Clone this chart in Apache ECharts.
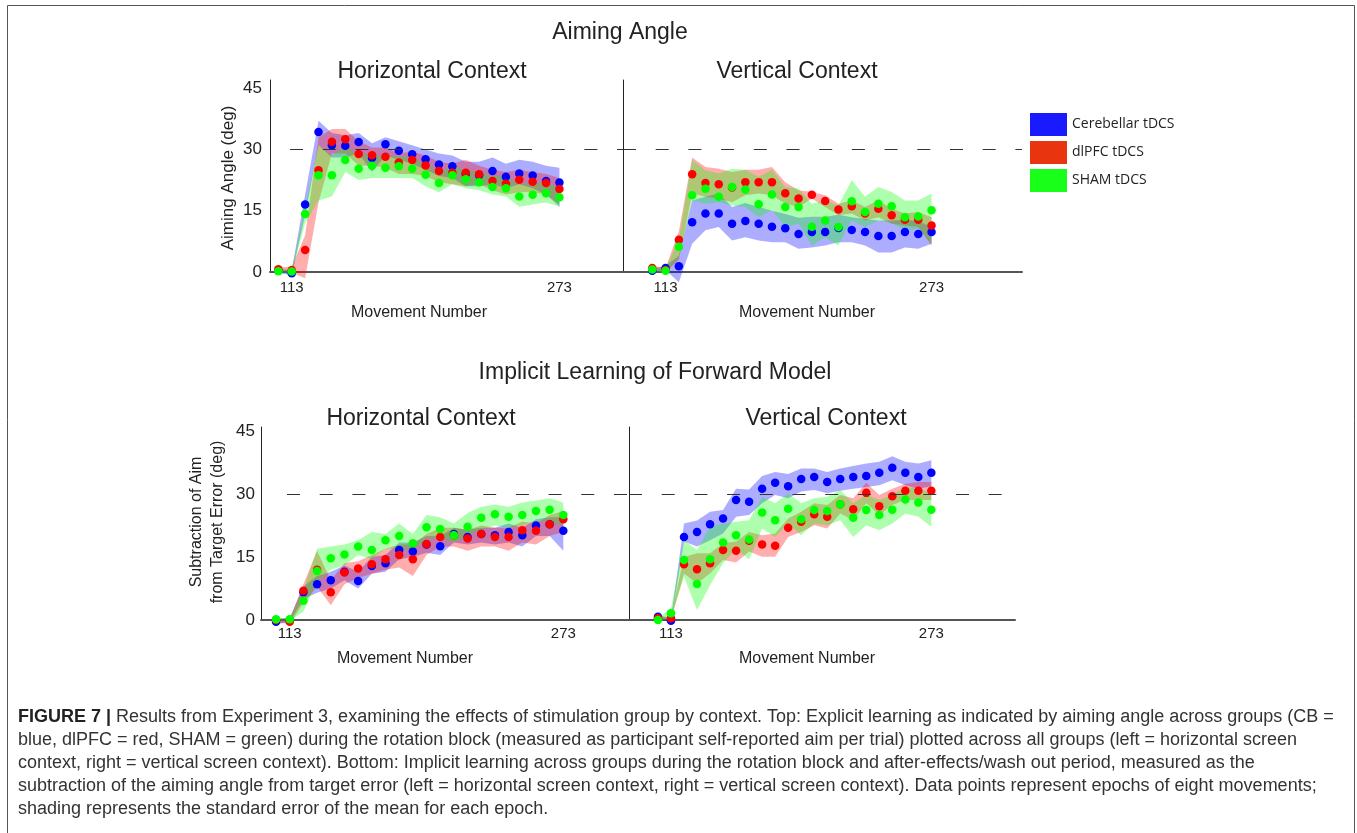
<!DOCTYPE html>
<html><head><meta charset="utf-8">
<script src="https://cdn.jsdelivr.net/npm/echarts@6/dist/echarts.min.js"></script>
<style>html,body{margin:0;padding:0;background:#fff}#c{width:1357px;height:833px}</style>
</head><body><div id="c"></div>
<script>
// Movement number of each epoch (epochs of eight movements)
const movement = [105,113,121,129,137,145,153,161,169,177,185,193,201,209,217,225,233,241,249,257,265,273];
const xTickLabels = [113, 273];
const yTickLabels = [0, 15, 30, 45];
const groupNames = ['Cerebellar tDCS', 'dlPFC tDCS', 'SHAM tDCS'];

// Aiming angle, horizontal context
const tlBlue   = [0.3,-0.3,16.5,34.3,31,30.9,31.8,27.9,31.3,29.7,28.8,27.6,26.3,25.9,24,23.7,24.7,23.3,24.1,23.6,22.3,21.9];
const tlBlueHi = [0.8,0.5,19,37,34,33.5,34,31.5,33,32,31,30,29,28.5,27,27,28,26.5,27.5,27,26,25.5];
const tlBlueLo = [-0.2,-0.8,14,31,28,28,29,24.5,28.5,27.5,26.5,25,23.5,23,21,21,21.5,20.5,21.5,20.5,19,16];
const tlRed    = [0.7,0.5,5.4,24.9,31.9,32.5,28.9,28.6,28.2,26.8,27.4,26.1,24.7,24.3,24.3,23.9,22.3,21.6,22.6,22.1,21.8,20.3];
const tlRedHi  = [1.2,1.2,9,33,35,35,32,30.5,30.5,29,29.5,28.5,27,26.5,27.5,26,25,24.5,25,24.5,24,23];
const tlRedLo  = [0.2,-0.2,-1.5,17,29,29,26,26,25.5,24,24,23.5,22,21.5,21,21.5,20,19,19.5,19.5,19,16.5];
const tlGreen  = [0.2,0.1,14.2,23.7,23.7,27.4,25.3,26,25.5,25.9,25.3,23.8,21.8,23.7,22.7,22,20.8,20.5,18.5,18.9,19.3,18.3];
const tlGreenHi= [0.5,0.5,16,31,28.5,31,28.5,29,28,28.5,28,26.5,24.5,26,25,24.5,23.5,23.5,21.5,22,22,20.5];
const tlGreenLo= [-0.3,-0.3,12,17.5,18.5,24.5,22.5,23,23,23,23,21,19.5,21.5,20.5,20,19,18.5,16,16.5,17,16];

// Aiming angle, vertical context
const trBlue   = [0.3,1,1.4,12.2,14.3,14.3,11.8,12.5,11.8,11.1,10.7,9.3,9.8,9.8,10.8,10.3,9.8,8.8,8.8,9.8,9.3,9.8];
const trBlueHi = [0.8,1.5,4,17.5,18.4,19.2,15.9,16.9,15.9,15,14.2,13.3,13.5,13.5,14,13.4,13,12.6,12.6,12.8,12.5,11];
const trBlueLo = [-0.2,0.5,-2.5,6.9,10.2,11,7.7,8.5,7.7,7.3,7.3,5.7,6,6.5,7.3,7.3,6.5,4.8,4.8,6,5.7,6.9];
const trRed    = [1,0.5,7.9,23.9,21.8,21.5,20.7,22,22,22,19.3,18,18.9,17.4,15.3,16.1,14.3,15.5,13.9,12.8,12.8,11.4];
const trRedHi  = [1.5,1,10,28,25.7,25.3,24.5,25,25,25.7,22,20,19.6,18.8,16.7,17.5,16,17.5,15.5,14.3,14.7,13.4];
const trRedLo  = [0.5,0,3,19.2,18.4,18,17.1,18.8,19.2,18.8,16.7,15.9,18,15.9,13.9,14.3,12.6,13.4,11.8,11.4,11,6.5];
const trGreen  = [0.6,0.3,6.2,18.8,20.4,18.4,20.8,20.2,16.6,19,15.9,15.9,11.1,12.6,11,17.3,14.7,16.7,16.1,13.4,13.6,15.1];
const trGreenHi= [1,0.8,8,27.4,24.9,24.1,25.3,25,23.3,25,20.8,20.4,16.7,17.5,16.3,22.5,18.4,20.8,19.6,17.5,17.5,19.2];
const trGreenLo= [0.2,-0.2,3.5,17.5,16.7,17.1,16.3,15.9,13.4,15.1,11,11.8,6.5,8.5,6.5,12.6,11,12.6,12,10.2,10.5,7];

// Implicit learning, horizontal context
const blBlue   = [-0.4,0,6.6,8.5,9.5,11.5,9.3,12.9,13.5,16.7,16.3,18,17.6,20.5,19.8,20.5,20.2,21,20.2,22.5,22.8,21.3];
const blBlueHi = [0.2,0.5,8,10.5,11.5,13,11.5,15,15.5,18.5,18.5,20,20,22,21.5,22,22,23,22,24,24.5,24.5];
const blBlueLo = [-1,-0.5,5,6.5,7.5,9.5,7.5,11,11.5,14.5,15,16,15.5,18.5,18,18.5,18,18.5,17.5,20,20,16.5];
const blRed    = [0,-0.4,7,12,6.6,11.3,12.3,13.3,14.5,15.5,14.5,18.1,19.8,20.2,19.4,20.5,19.8,19.8,21.4,21.3,22.8,24];
const blRedHi  = [0.5,0.3,8.5,16.5,9.5,13.5,14,15.5,17,18,18,20.5,22,22,21.5,22.5,22,22,23.5,23,25,26];
const blRedLo  = [-0.5,-1,4,8,3.5,8.5,10,11,12,12.5,10.5,15.5,17.5,17.5,16.5,17.5,17.5,16.5,18.5,18,20,21];
const blGreen  = [0.2,0.2,4.6,11.7,14.7,15.6,17.5,16.7,19,20,18.3,22.1,21.7,20.2,22.2,24.4,25.2,24.6,25,26,26.3,25];
const blGreenHi= [0.5,0.5,7,17,17.5,18,19,21,20.5,23,20.5,25,24.5,23,25.5,27,27.5,27,28,28.5,29,28];
const blGreenLo= [-0.3,-0.3,2,9,12,13,15.5,14.5,17,17,16.5,19.5,19.5,18.5,20,21.5,22.5,22,22.5,23.5,23.5,22.5];

// Implicit learning, vertical context
const brBlue   = [0.8,-0.2,19.8,21,22.8,24.2,28.6,28.2,31.3,32.7,31.9,33.6,34.1,32.9,33.6,34.1,34.3,35.1,36.3,35.1,34.1,35.1];
const brBlueHi = [1.2,0.3,23,23.7,25.8,26.2,31.3,31.1,34.3,35.3,34.8,36.1,36.1,35.3,36.1,36.7,37.3,37.7,39,37.7,37.3,38.1];
const brBlueLo = [0.3,-0.6,18.7,17.5,19,20.6,24.6,25,27.8,29.8,29,30.6,31,30.2,30.8,31.3,31.7,32.1,33.3,32.1,31.3,31.9];
const brRed    = [0.4,0.4,13.3,12.1,13.5,16.7,16.5,18.9,18,17.7,22,23.4,25.2,24.6,27.6,26.4,30.3,27.1,29.5,30.8,30.8,30.8];
const brRedHi  = [0.8,0.8,15,15.9,15.9,18.3,18.7,21,20.2,20.6,24.2,25.8,27.8,27.4,29.8,29,32.7,29.8,31.3,32.5,32.9,32.9];
const brRedLo  = [0,0,11.1,8.7,11.1,14.3,13.7,16.3,15.1,15.1,19.8,21,22.6,21.8,25.4,23.8,27.8,25,27.4,28.6,28.6,28.6];
const brGreen  = [0,1.6,14.3,8.6,14.5,18.5,20.2,19.2,25.6,23.8,26.5,24,26.2,26,27.6,24.4,26.2,25,26.3,28.7,28,26.3];
const brGreenHi= [0.4,2.8,19,16.7,22.2,23,23.4,23.8,29.4,27.8,30.2,27.8,29,29.4,31,27.8,29.8,28.6,29.8,31.7,31.3,30.2];
const brGreenLo= [-0.4,0.4,10.3,2.4,8.3,13.5,17,14.4,21.8,19.8,23,20.2,23,22.6,23.8,19.8,22.6,21.4,23,25.4,24.6,22.2];

const FONT = "'Liberation Sans', Arial, Helvetica, sans-serif";
const DOT = ['#0000ff', '#ff0000', '#00ff00'];
const BAND = ['rgba(0,0,255,0.32)', 'rgba(255,0,0,0.32)', 'rgba(0,255,0,0.32)'];
const LEGEND = ['#1a1aff', '#e8340f', '#1aff1a'];

const panels = [
  {grid:{left:270, top:80, width:353, height:192}, xr:[100,311], ymax:47, yLabels:true, xMargin:8, yMargin:8, dashFrom:112,
   groups:[[tlBlue,tlBlueLo,tlBlueHi],[tlRed,tlRedLo,tlRedHi],[tlGreen,tlGreenLo,tlGreenHi]]},
  {grid:{left:623, top:80, width:399, height:192}, xr:[87.4,327.4], ymax:47, yLabels:false, xMargin:8, yMargin:8, dashFrom:87.4,
   groups:[[trBlue,trBlueLo,trBlueHi],[trRed,trRedLo,trRedHi],[trGreen,trGreenLo,trGreenHi]]},
  {grid:{left:261, top:427, width:368, height:193}, xr:[96.2,311.4], ymax:46, yLabels:true, xMargin:6, yMargin:6, dashFrom:111.4,
   groups:[[blBlue,blBlueLo,blBlueHi],[blRed,blRedLo,blRedHi],[blGreen,blGreenLo,blGreenHi]]},
  {grid:{left:629, top:427, width:386, height:193}, xr:[87.2,324.4], ymax:46, yLabels:false, xMargin:6, yMargin:6, dashFrom:87.2,
   groups:[[brBlue,brBlueLo,brBlueHi],[brRed,brRedLo,brRedHi],[brGreen,brGreenLo,brGreenHi]]}
];

const grids = [], xAxes = [], yAxes = [], series = [];
panels.forEach((p, i) => {
  grids.push(Object.assign({containLabel:false}, p.grid));
  xAxes.push({type:'value', gridIndex:i, min:p.xr[0], max:p.xr[1],
    axisLine:{show:true, onZero:false, lineStyle:{color:'#555', width:2}},
    axisTick:{show:false}, splitLine:{show:false},
    axisLabel:{customValues:xTickLabels, fontSize:15, color:'#222', fontFamily:FONT, margin:p.xMargin}});
  yAxes.push({type:'value', gridIndex:i, min:0, max:p.ymax,
    axisLine:{show:true, lineStyle:{color:'#222', width:1}},
    axisTick:{show:false}, splitLine:{show:false},
    axisLabel: p.yLabels ? {customValues:yTickLabels, fontSize:17, color:'#222', fontFamily:FONT, margin:p.yMargin} : {show:false}});
  p.groups.forEach((g, gi) => {
    const mean = g[0], lo = g[1], hi = g[2];
    series.push({type:'custom', name:groupNames[gi], xAxisIndex:i, yAxisIndex:i, silent:true, clip:false,
      data:[[movement[0], mean[0]]],
      renderItem:(params, api) => {
        const pts = [];
        for (let k = 0; k < movement.length; k++) pts.push(api.coord([movement[k], hi[k]]));
        for (let k = movement.length - 1; k >= 0; k--) pts.push(api.coord([movement[k], lo[k]]));
        return {type:'polygon', shape:{points:pts}, style:{fill:BAND[gi], stroke:null}};
      }});
    const sc = {type:'scatter', name:groupNames[gi], xAxisIndex:i, yAxisIndex:i, silent:true, clip:false,
      symbol:'circle', symbolSize:8.5, itemStyle:{color:DOT[gi], opacity:1},
      data: movement.map((m, k) => [m, mean[k]])};
    if (gi === 2) {
      sc.markLine = {silent:true, symbol:'none', label:{show:false}, animation:false,
        lineStyle:{color:'#333', width:1, type:[13, 19.7]},
        data:[[{coord:[p.dashFrom, 30]}, {coord:[p.xr[1], 30]}]]};
    }
    series.push(sc);
  });
});

function txt(x, y, text, size, opts) {
  opts = opts || {};
  return {type:'text', x:x, y:y, rotation:opts.rot || 0, silent:true,
    style:{x:0, y:0, text:text, fill:opts.color || '#222', fontSize:size, fontFamily:opts.font || FONT,
      fontWeight:opts.weight || 'normal', textAlign:opts.align || 'center', textVerticalAlign:'middle',
      lineHeight:opts.lh, rich:opts.rich}};
}

const CAP = 18;
const capRich = {b:{fontWeight:'bold', fontSize:CAP, fontFamily:FONT, fill:'#222', color:'#222'}};
const captionLines = [
  '{b|FIGURE 7 |} Results from Experiment 3, examining the effects of stimulation group by context. Top: Explicit learning as indicated by aiming angle across groups (CB =',
  'blue, dlPFC = red, SHAM = green) during the rotation block (measured as participant self-reported aim per trial) plotted across all groups (left = horizontal screen',
  'context, right = vertical screen context). Bottom: Implicit learning across groups during the rotation block and after-effects/wash out period, measured as the',
  'subtraction of the aiming angle from target error (left = horizontal screen context, right = vertical screen context). Data points represent epochs of eight movements;',
  'shading represents the standard error of the mean for each epoch.'
];
const captionY = [717, 740, 763, 786, 809];

const graphics = [
  {type:'rect', silent:true, shape:{x:7.5, y:5.5, width:1347, height:840}, style:{fill:'none', stroke:'#555', lineWidth:1}},
  txt(620, 33, 'Aiming Angle', 23),
  txt(432, 72, 'Horizontal Context', 23),
  txt(797, 72, 'Vertical Context', 23),
  txt(228, 178, 'Aiming Angle (deg)', 17, {rot:Math.PI/2}),
  txt(419, 313, 'Movement Number', 16),
  txt(807, 313, 'Movement Number', 16),
  txt(655, 373, 'Implicit Learning of Forward Model', 23),
  txt(421, 419, 'Horizontal Context', 23),
  txt(826, 419, 'Vertical Context', 23),
  txt(207.5, 522, 'Subtraction of Aim\nfrom Target Error (deg)', 16, {rot:Math.PI/2, lh:21}),
  txt(405, 659, 'Movement Number', 16),
  txt(807, 659, 'Movement Number', 16)
];
captionLines.forEach((t, i) => graphics.push(txt(18, captionY[i], t, CAP, {align:'left', color:'#333', rich:capRich})));

const chart = echarts.init(document.getElementById('c'), null, {renderer:'canvas'});
chart.setOption({
  animation:false,
  backgroundColor:'#fff',
  grid:grids, xAxis:xAxes, yAxis:yAxes, series:series,
  legend:{orient:'vertical', left:1030, top:113, padding:0, itemWidth:37, itemHeight:23, itemGap:5, icon:'rect', selectedMode:false,
    data:groupNames.map((n, i) => ({name:n, icon:'rect', itemStyle:{color:LEGEND[i], borderWidth:0}})),
    textStyle:{fontSize:14, color:'#222', fontFamily:"'Open Sans', 'Noto Sans', sans-serif"}},
  graphic:graphics
});
</script></body></html>
